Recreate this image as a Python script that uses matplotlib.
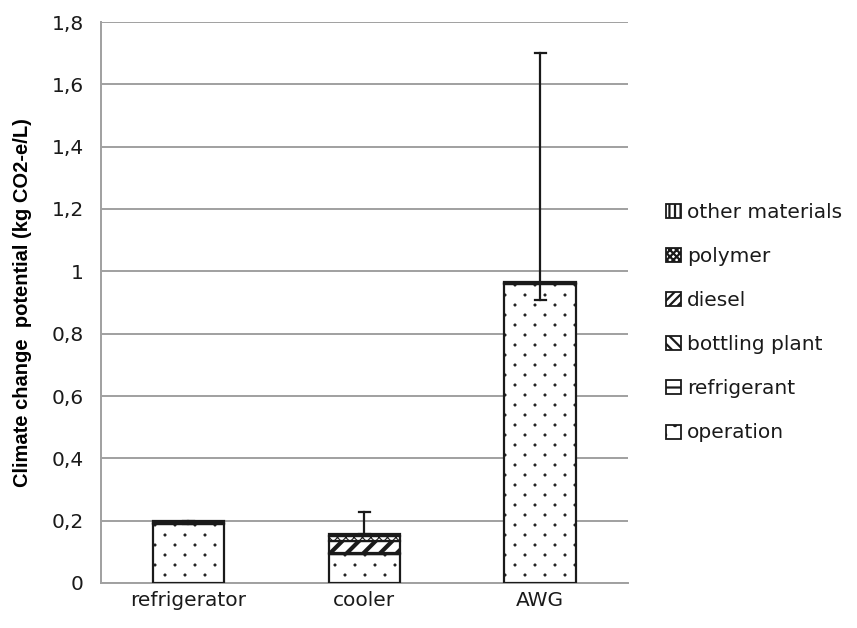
import matplotlib
matplotlib.use("Agg")
import matplotlib.pyplot as plt
import matplotlib.hatch as mhatch
from matplotlib.path import Path
from matplotlib.patches import Rectangle
from matplotlib.ticker import FuncFormatter
import numpy as np

# ---------------- data ----------------
categories = ["refrigerator", "cooler", "AWG"]
series_names = ["operation", "refrigerant", "bottling plant", "diesel", "polymer", "other materials"]
operation = [0.188, 0.093, 0.960]
refrigerant = [0.004, 0.0, 0.002]
bottling_plant = [0.0, 0.004, 0.0]
diesel = [0.0, 0.037, 0.0]
polymer = [0.0, 0.018, 0.0]
other_materials = [0.006, 0.005, 0.003]
err_low = [0.188, 0.157, 0.908]
err_high = [0.199, 0.228, 1.701]
yticks = [0, 0.2, 0.4, 0.6, 0.8, 1.0, 1.2, 1.4, 1.6, 1.8]


# ---------------- custom staggered dot hatch ----------------
class StaggeredDots(mhatch.HatchPatternBase):
    def __init__(self, hatch, density):
        n = hatch.count('.')
        self.rows = 10 * n
        self.cols = 5 * n
        circ = Path.unit_circle()
        self.sv = circ.vertices * 0.011
        self.sc = circ.codes
        self.num_vertices = self.rows * self.cols * len(self.sv)

    def set_vertices_and_codes(self, vertices, codes):
        k = len(self.sv)
        i = 0
        for r in range(self.rows):
            y = (r + 0.5) / self.rows
            for c in range(self.cols):
                x = (c + 0.25 + 0.5 * (r % 2)) / self.cols
                vertices[i * k:(i + 1) * k] = self.sv + (x, y)
                codes[i * k:(i + 1) * k] = self.sc
                i += 1


mhatch._hatch_types = [t for t in mhatch._hatch_types
                       if t.__name__ != 'SmallFilledCircles'] + [StaggeredDots]

plt.rcParams['font.family'] = ['DejaVu Sans']

series = [operation, refrigerant, bottling_plant, diesel, polymer, other_materials]
hatches = ['.', '--', '\\\\', '//', 'xxxx', '||']
hatch_lws = [0.6, 1.5, 1.5, 3.0, 0.8, 1.5]
legend_hatches = ['.', '--', '\\\\\\', '////', 'xxxxx', '|||']

W, H = 857, 628
fig = plt.figure(figsize=(W / 100, H / 100), dpi=100)
ax = fig.add_axes([100.5 / W, 45 / H, 527.5 / W, 561 / H])

x = np.arange(len(categories))
bottom = np.zeros(len(categories))
for vals, h, hlw in zip(series, hatches, hatch_lws):
    v = np.array(vals)
    plt.rcParams['hatch.linewidth'] = hlw
    bars = ax.bar(x, v, 0.405, bottom=bottom, facecolor='white', edgecolor='#1a1a1a',
                  linewidth=1.6, hatch=h, zorder=3)
    for b in bars:
        if hasattr(b, 'set_hatch_linewidth'):
            b.set_hatch_linewidth(hlw)
    bottom += v

for xi, lo, hi in zip(x, err_low, err_high):
    ax.plot([xi, xi], [lo, hi], color='#1a1a1a', lw=1.6, zorder=4)
    ax.plot([xi - 0.031, xi + 0.031], [hi, hi], color='#1a1a1a', lw=1.6, zorder=4)
    ax.plot([xi - 0.031, xi + 0.031], [lo, lo], color='#1a1a1a', lw=1.6, zorder=4)

ax.set_xlim(-0.5, 2.5)
ax.set_ylim(0, 1.8)
ax.set_yticks(yticks)
ax.yaxis.set_major_formatter(FuncFormatter(lambda v, p: ('%g' % round(v, 1)).replace('.', ',')))
ax.set_xticks(x)
ax.set_xticklabels(categories)
ax.tick_params(axis='both', labelsize=14.5, length=0, colors='#1a1a1a')
ax.tick_params(axis='y', pad=12)
ax.tick_params(axis='x', pad=6)
ax.grid(axis='y', color='#a0a0a0', lw=1.4, zorder=0)
for s in ['top', 'right']:
    ax.spines[s].set_visible(False)
for s in ['left', 'bottom']:
    ax.spines[s].set_color('#a0a0a0')
    ax.spines[s].set_linewidth(1.4)
ax.set_ylabel("Climate change  potential (kg CO2-e/L)", fontsize=14.5, fontweight='bold',
              family=['Liberation Sans', 'DejaVu Sans'], labelpad=14)

# ---------------- legend (manual, top entry first) ----------------
leg_x, leg_base, leg_step = 666, 218, 44.1
for k, (n, h) in enumerate(list(zip(series_names, legend_hatches))[::-1]):
    base = leg_base + k * leg_step
    plt.rcParams['hatch.linewidth'] = 1.6
    r = Rectangle((leg_x / W, 1 - base / H), 15 / W, 14 / H, transform=fig.transFigure,
                  facecolor='white', edgecolor='#1a1a1a', hatch=h, linewidth=1.3)
    if hasattr(r, 'set_hatch_linewidth'):
        r.set_hatch_linewidth(1.6)
    fig.add_artist(r)
    fig.text((leg_x + 21) / W, 1 - base / H, n, fontsize=14.5, color='#1a1a1a',
             ha='left', va='baseline')

fig.savefig("out.png", dpi=100)
